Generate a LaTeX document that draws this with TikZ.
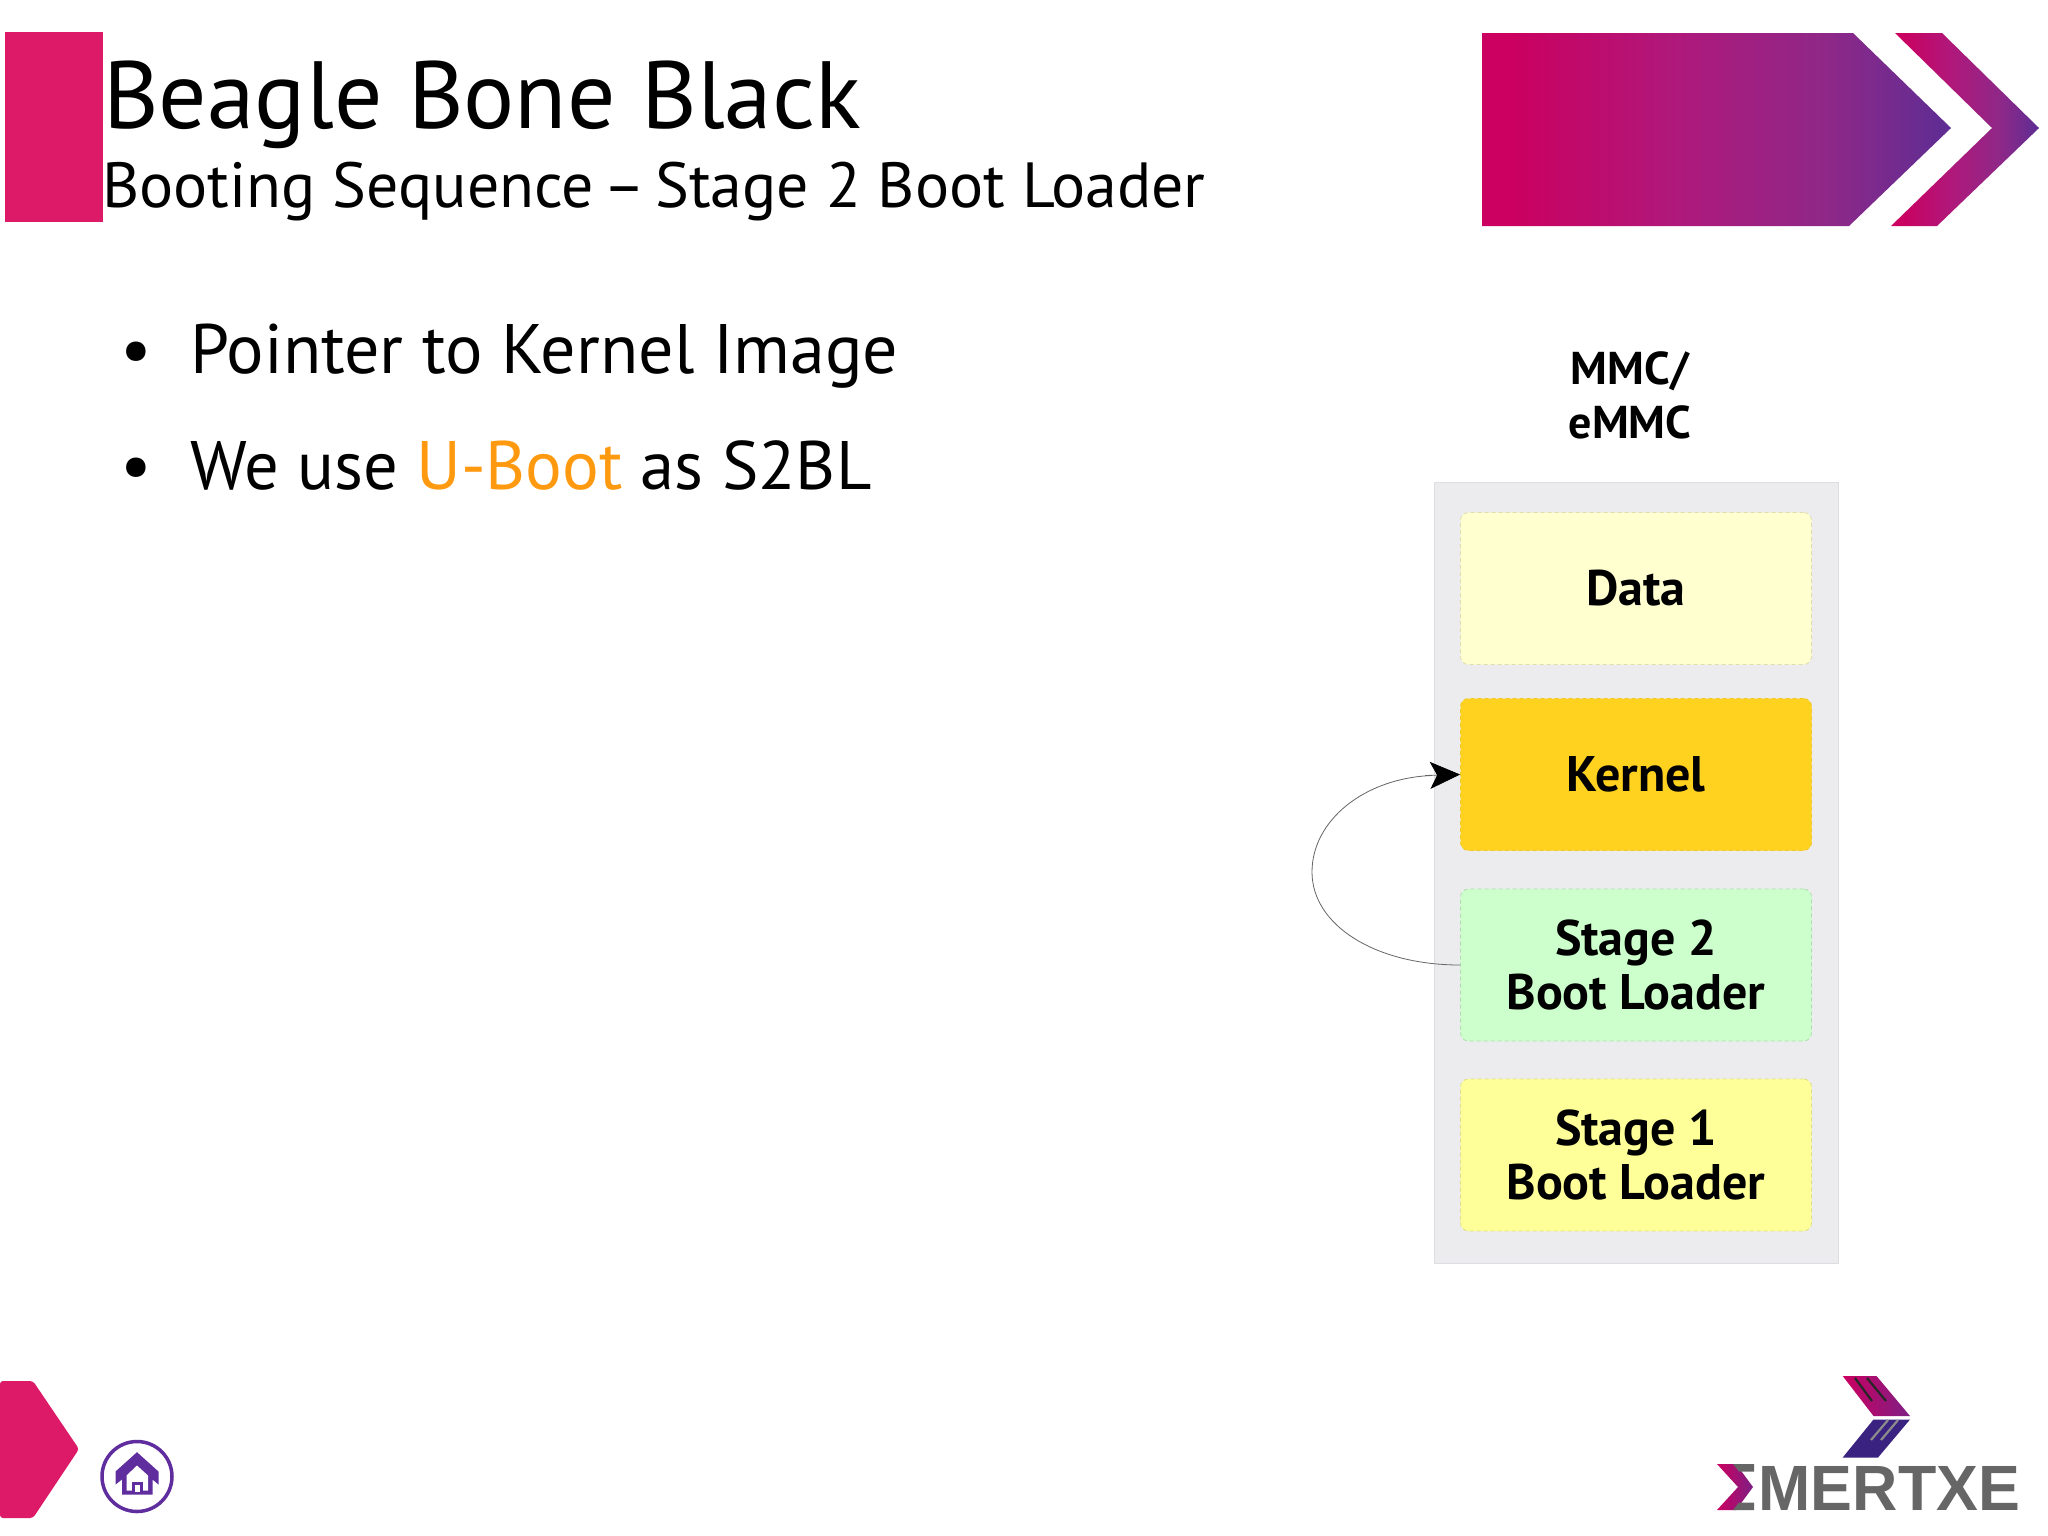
\documentclass[tikz,border=0pt]{standalone}
\usepackage{fontspec}
\setmainfont{PT Sans}
\newfontfamily\logofont{Liberation Sans}
\usetikzlibrary{arrows.meta}
\definecolor{pinkbar}{HTML}{DD1A68}
\definecolor{panelgrey}{HTML}{ECECEF}
\definecolor{panelline}{HTML}{DEDEE2}
\definecolor{homepurple}{HTML}{5F2D9E}
\definecolor{uboot}{HTML}{FF9A10}
\definecolor{logogrey}{HTML}{666666}
\definecolor{lognavy}{HTML}{3A2380}
\definecolor{c1}{HTML}{CB0060}
\definecolor{c2}{HTML}{B0187A}
\definecolor{c3}{HTML}{8E2888}
\definecolor{c4}{HTML}{5D2D94}
\pgfdeclarehorizontalshading{bannergrad}{100bp}{
  color(0bp)=(c1); color(28bp)=(c1);
  color(45bp)=(c2); color(62bp)=(c3); color(75bp)=(c4); color(100bp)=(c4)}
\tikzset{
  titletext/.style={anchor=base west,inner sep=0pt,font=\fontsize{95.5}{100}\selectfont},
  subtext/.style={anchor=base west,inner sep=0pt,font=\fontsize{63.8}{70}\selectfont},
  bodytext/.style={anchor=base west,inner sep=0pt,font=\fontsize{70}{70}\selectfont},
  bodytwo/.style={anchor=base west,inner sep=0pt,font=\fontsize{68.6}{70}\selectfont},
  partbox/.style={rounded corners=8pt,dashed,dash pattern=on 4pt off 3pt,line width=0.8pt,
    minimum width=351pt,minimum height=152pt,inner sep=0pt,align=center,
    font=\bfseries\fontsize{50}{54}\selectfont},
  grad/.style={shading=bannergrad,draw=none},
  conn/.style={draw=black!60,line width=0.8pt}
}
\begin{document}
\begin{tikzpicture}[x=1pt,y=-1pt]
\useasboundingbox (0,0) rectangle (2048,1535);
\fill[white] (0,0) rectangle (2048,1535);
% header
\fill[pinkbar] (5,32) rectangle (103,222);
\path[grad] (1482,33) -- (1853,33) -- (1951,128) -- (1849,226) -- (1482,226) -- cycle;
\path[grad] (1895,33) -- (1942,33) -- (2039,128) -- (1937,226) -- (1891,226) -- (1992,128) -- cycle;
\node[titletext] (title) at (103,128) {Beagle Bone Black};
\node[subtext] (subtitle) at (102,207) {Booting Sequence\kern-7.5pt{} – \kern-7.5pt{}Stage 2 Boot Loader};
% bullets
\node[bodytext] (b1) at (120,373) {•};
\node[bodytext] (t1) at (190,373) {Pointer to Kernel Image};
\node[bodytext] (b2) at (120,489) {•};
\node[bodytwo] (t2) at (190,489) {We use \textcolor{uboot}{U-Boot} as S2BL};
% panel
\node[fill=panelgrey,draw=panelline,line width=1pt,minimum width=404pt,minimum height=781pt,inner sep=0pt] (panel) at (1636,872.5) {};
\node[align=center,inner sep=0pt,font=\bfseries\fontsize{46}{54}\selectfont] (mmc) at (1630,395.5) {MMC/\\eMMC};
\node[partbox,fill={rgb,255:red,255;green,255;blue,207},draw={rgb,255:red,222;green,222;blue,170}] (data) at (1636,588.5) {Data};
\node[partbox,fill={rgb,255:red,255;green,210;blue,31},draw={rgb,255:red,240;green,200;blue,40}] (kernel) at (1636,774.5) {Kernel};
\node[partbox,fill={rgb,255:red,204;green,255;blue,204},draw={rgb,255:red,170;green,222;blue,170}] (s2) at (1636,965) {Stage 2\\Boot Loader};
\node[partbox,fill={rgb,255:red,255;green,255;blue,153},draw={rgb,255:red,222;green,222;blue,130}] (s1) at (1636,1155) {Stage 1\\Boot Loader};
% connector
\coordinate (lm) at (1312,872);
\draw[conn] (s2.west) .. controls (1375,965) and (1312,925) .. (lm) .. controls (1312,820) and (1365,778) .. (1432,775.5);
\draw[conn,-{Stealth[length=30pt,width=27pt,inset=7pt,color=black]}] (1425,775.5) -- (kernel.west);
% bottom-left
\fill[pinkbar,rounded corners=3pt] (0,1381) -- (33,1381) -- (79,1449) -- (33,1518) -- (0,1518) -- cycle;
% home icon
\node[circle,draw=homepurple,line width=3.5pt,minimum size=70pt,inner sep=0pt] (home) at (137,1476.5) {};
\fill[homepurple] (137,1452.2) -- (158.5,1471.5) -- (158.5,1484.5) -- (152.5,1479.5) -- (152.5,1494.5) -- (122,1494.5) -- (122,1479.5) -- (115.5,1484.5) -- (115.5,1471.5) -- cycle;
\fill[white] (137,1465.5) -- (148,1475.5) -- (148,1490.5) -- (126.5,1490.5) -- (126.5,1475.5) -- cycle;
\fill[homepurple] (131.5,1481.5) rectangle (142.5,1491.5);
\fill[white] (134.5,1484.5) rectangle (139.5,1491.5);
% logo
\path[left color=c1,right color=c4!70!c1,draw=none] (1842.7,1376) -- (1876.5,1376) -- (1910,1416) -- (1873.5,1416) -- cycle;
\fill[lognavy] (1873.5,1419.5) -- (1910,1419.5) -- (1878,1457.5) -- (1842.7,1457.5) -- cycle;
\draw[black!85,line width=2.2pt] (1855,1378) -- (1872,1401);
\draw[black!85,line width=2.2pt] (1867,1378) -- (1886,1401);
\draw[black!45,line width=2.2pt] (1888,1420) -- (1871,1440);
\draw[black!45,line width=2.2pt] (1898,1420) -- (1881,1440);
\path[left color=c1,right color=c4!70!c1,draw=none] (1717,1464) -- (1736,1464) -- (1753,1487) -- (1736,1510) -- (1717,1510) -- (1738,1487) -- cycle;
\fill[logogrey] (1733,1464) -- (1754,1464) -- (1754,1471.5) -- (1739,1471.5) -- cycle;
\fill[logogrey] (1739,1502.5) -- (1754,1502.5) -- (1754,1510) -- (1733,1510) -- cycle;
\node[anchor=base west,inner sep=0pt,text=logogrey,xscale=0.98,font=\logofont\bfseries\fontsize{64}{64}\selectfont] (logo) at (1758.5,1510) {MERTXE};
\end{tikzpicture}
\end{document}
